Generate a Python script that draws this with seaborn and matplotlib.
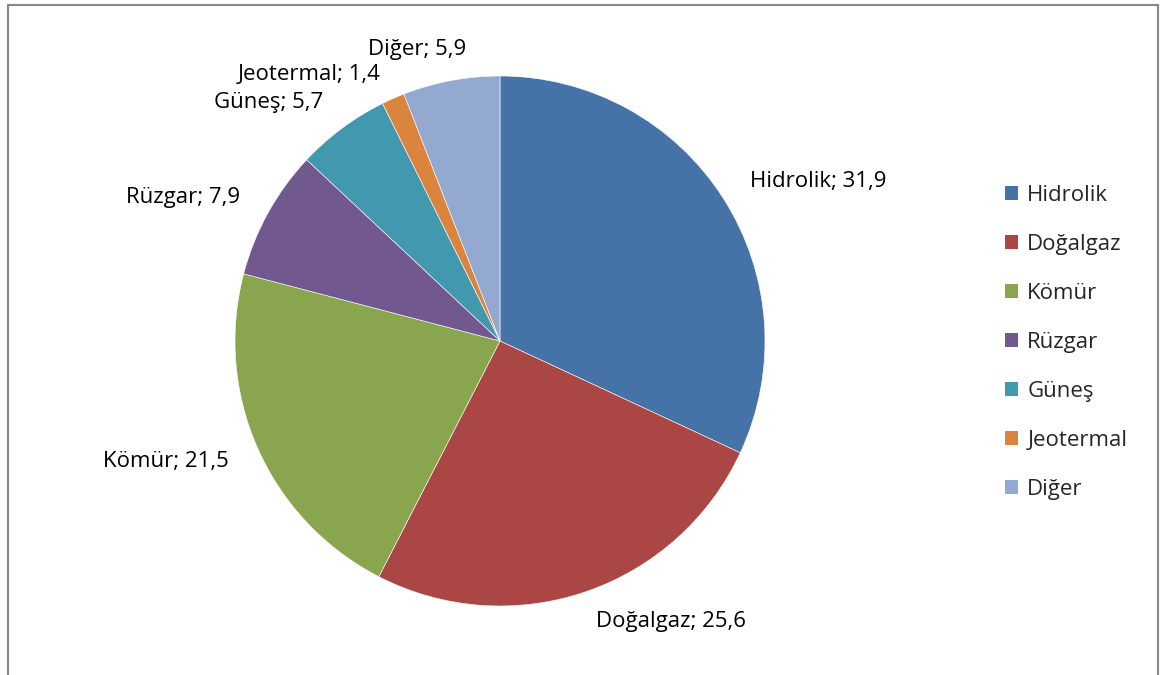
import matplotlib
matplotlib.use("Agg")
import matplotlib.pyplot as plt
import seaborn as sns
from matplotlib.patches import Rectangle, Patch

# data
sources = ["Hidrolik", "Doğalgaz", "Kömür", "Rüzgar", "Güneş", "Jeotermal", "Diğer"]
shares = [31.9, 25.6, 21.5, 7.9, 5.7, 1.4, 5.9]
share_text = ["31,9", "25,6", "21,5", "7,9", "5,7", "1,4", "5,9"]
colors = ["#4572A7", "#AA4643", "#89A54E", "#71588F", "#4198AF", "#DB843D", "#93A9CF"]

sns.set_theme(style="white")
plt.rcParams["font.family"] = ["Open Sans", "DejaVu Sans"]

W, H = 1161, 675
fig = plt.figure(figsize=(W / 100, H / 100), dpi=100)

# outer frame (bottom edge runs past the picture)
fig.patches.append(Rectangle((8 / W, -0.05), 1150 / W, (H - 5) / H + 0.05,
                             transform=fig.transFigure, fill=False,
                             edgecolor="#888888", linewidth=1.5))

# pie centred at (500, 341) px with radius 265 px
ax = fig.add_axes([235 / W, 69 / H, 530 / W, 530 / H])
labels = [f"{s}; {v}" for s, v in zip(sources, share_text)]
wedges, texts = ax.pie(shares, labels=labels, colors=colors, startangle=90,
                       counterclock=False, labeldistance=1.12,
                       wedgeprops=dict(edgecolor="white", linewidth=0.4),
                       textprops=dict(fontsize=16, color="black"))
for t in texts:
    t.set_clip_on(False)
# small nudges for the crowded labels at the top
x, y = texts[-1].get_position()
texts[-1].set_position((x + 0.08, y))
x, y = texts[-2].get_position()
texts[-2].set_position((x, y - 0.02))
ax.set_xlim(-1, 1)
ax.set_ylim(-1, 1)
ax.set_axis_off()

handles = [Patch(facecolor=c, edgecolor="none") for c in colors]
fig.legend(handles, sources, loc="upper left", bbox_to_anchor=(994 / W, 1 - 174 / H),
           frameon=False, fontsize=16, handlelength=0.6, handleheight=0.6,
           handletextpad=0.4, labelspacing=1.26, borderpad=0)

fig.savefig("out.png", dpi=100)
